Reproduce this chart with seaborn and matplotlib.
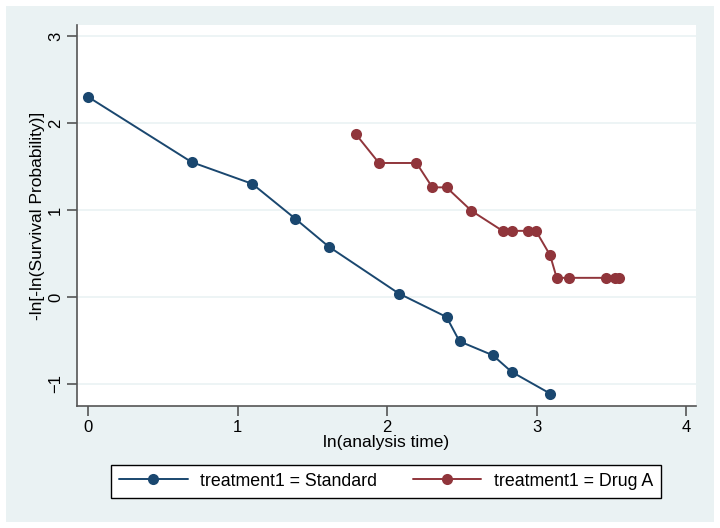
import numpy as np
import pandas as pd
import matplotlib
matplotlib.use('Agg')
import matplotlib.pyplot as plt
import seaborn as sns
from matplotlib.patches import Rectangle

# values (ln time, -ln(-ln S))
std_x = [0.0, 0.693, 1.099, 1.386, 1.609, 2.079, 2.398, 2.485, 2.708, 2.833, 3.091]
std_y = [2.30, 1.55, 1.30, 0.90, 0.58, 0.04, -0.23, -0.51, -0.67, -0.86, -1.11]

drug_x = [1.792, 1.946, 2.197, 2.303, 2.398, 2.565, 2.773, 2.833, 2.944, 2.996,
          3.091, 3.135, 3.219, 3.466, 3.526, 3.555]
drug_y = [1.87, 1.54, 1.54, 1.26, 1.26, 0.99, 0.76, 0.76, 0.76, 0.76,
          0.48, 0.22, 0.22, 0.22, 0.22, 0.22]

groups = ['treatment1 = Standard', 'treatment1 = Drug A']
colors = ['#1a476f', '#90353b']

df = pd.concat([
    pd.DataFrame({'x': std_x, 'y': std_y, 'grp': groups[0]}),
    pd.DataFrame({'x': drug_x, 'y': drug_y, 'grp': groups[1]}),
], ignore_index=True)

sns.set_style('white')
plt.rcParams['font.family'] = ['Liberation Sans', 'DejaVu Sans']
plt.rcParams['text.color'] = 'black'

W, H = 720, 528
fig = plt.figure(figsize=(7.2, 5.28), dpi=100, facecolor='white')
bg = Rectangle((6 / W, 6 / H), 708 / W, 516 / H, transform=fig.transFigure,
               facecolor='#eaf2f3', edgecolor='none', zorder=-10)
fig.add_artist(bg)
ax = fig.add_axes([77 / W, (H - 406) / H, 619 / W, 381 / H])
ax.set_facecolor('white')

sns.lineplot(data=df, x='x', y='y', hue='grp', palette=dict(zip(groups, colors)),
             marker='o', markersize=8, markeredgewidth=0, linewidth=1.4,
             estimator=None, sort=False, ax=ax, legend=False)

ax.set_xlim(-0.074, 4.067)
ax.set_ylim(-1.253, 3.126)
ax.set_xticks([0, 1, 2, 3, 4])
ax.set_yticks([-1, 0, 1, 2, 3])
ax.grid(axis='y', color='#eaf2f3', linewidth=1.2)
ax.grid(axis='x', visible=False)
ax.set_axisbelow(True)
for s in ['top', 'right']:
    ax.spines[s].set_visible(False)
for s in ['left', 'bottom']:
    ax.spines[s].set_color('#555555')
    ax.spines[s].set_linewidth(1.2)
ax.tick_params(axis='both', direction='out', length=7, width=1.2, color='#555555',
               labelsize=12, labelcolor='black', pad=3, bottom=True, left=True)
ax.tick_params(axis='y', labelrotation=90)
for lab in ax.get_yticklabels():
    lab.set_verticalalignment('center')

ax.set_xlabel('ln(analysis time)', fontsize=12.5, labelpad=0, color='black')
ax.set_ylabel('-ln[-ln(Survival Probability)]', fontsize=12.5, labelpad=2, color='black')

handles = [plt.Line2D([], [], color=c, marker='o', markersize=8, markeredgewidth=0,
                      linewidth=1.4) for c in colors]
leg = fig.legend(handles, groups, loc='center', bbox_to_anchor=(386 / W, 1 - 481 / H),
                 ncol=2, frameon=True, fancybox=False, edgecolor='black', facecolor='white',
                 framealpha=1, fontsize=12.8, handlelength=3.85, handletextpad=0.7,
                 columnspacing=2.0, borderpad=0.45)
leg.get_frame().set_linewidth(1.0)

fig.savefig('out.png', dpi=100, facecolor='white')
